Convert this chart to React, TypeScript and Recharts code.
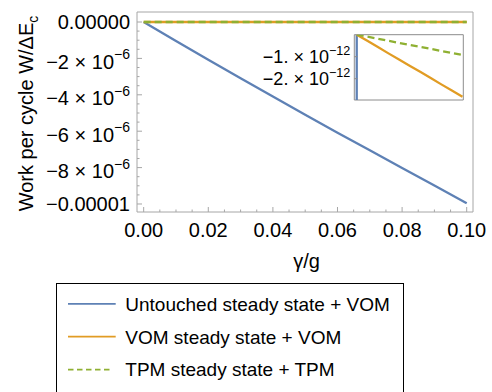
import React from 'react';
import { LineChart, Line, XAxis, YAxis, Label, ReferenceArea } from 'recharts';

// ---------- data ----------
const gammaValues = [0, 0.01, 0.02, 0.03, 0.04, 0.05, 0.06, 0.07, 0.08, 0.09, 0.1];
const untouchedVOM = [0, -1.04e-6, -2.07e-6, -3.09e-6, -4.1e-6, -5.1e-6, -6.08e-6, -7.05e-6, -8.02e-6, -8.99e-6, -9.96e-6];
const vomVOM = [0, -0.28e-12, -0.56e-12, -0.85e-12, -1.13e-12, -1.41e-12, -1.69e-12, -1.97e-12, -2.26e-12, -2.54e-12, -2.82e-12];
const tpmTPM = [0, -0.09e-12, -0.18e-12, -0.28e-12, -0.37e-12, -0.46e-12, -0.55e-12, -0.64e-12, -0.74e-12, -0.83e-12, -0.92e-12];

const seriesNames = ['Untouched steady state + VOM', 'VOM steady state + VOM', 'TPM steady state + TPM'];
const seriesKeys = ['u', 'v', 't'];
const seriesColors = ['#5E81B5', '#E19C24', '#8FB032'];

const xMajorTicks = [0, 0.02, 0.04, 0.06, 0.08, 0.1];
const xTickLabels = ['0.00', '0.02', '0.04', '0.06', '0.08', '0.10'];
const xMinorTicks = [0.005, 0.01, 0.015, 0.025, 0.03, 0.035, 0.045, 0.05, 0.055, 0.065, 0.07, 0.075, 0.085, 0.09, 0.095];

const yMajorTicks = [0, -2e-6, -4e-6, -6e-6, -8e-6, -1e-5];
const yTickLabels: [string, string][] = [
  ['0.00000', ''],
  ['\u22122 \u00d7 10', '\u22126'],
  ['\u22124 \u00d7 10', '\u22126'],
  ['\u22126 \u00d7 10', '\u22126'],
  ['\u22128 \u00d7 10', '\u22126'],
  ['\u22120.00001', ''],
];
const yMinorTicks = [
  -0.5e-6, -1e-6, -1.5e-6, -2.5e-6, -3e-6, -3.5e-6, -4.5e-6, -5e-6, -5.5e-6,
  -6.5e-6, -7e-6, -7.5e-6, -8.5e-6, -9e-6, -9.5e-6,
];

const insetYTicks = [-1e-12, -2e-12];
const insetYTickLabels: [string, string][] = [
  ['\u22121. \u00d7 10', '\u221212'],
  ['\u22122. \u00d7 10', '\u221212'],
];

const data = gammaValues.map((g, i) => ({ g, u: untouchedVOM[i], v: vomVOM[i], t: tpmTPM[i] }));

const mainXDomain: [number, number] = [-0.00207, 0.10195];
const mainYDomain: [number, number] = [-1.044e-5, 0.55e-6];
const insetXDomain: [number, number] = [-0.0023, 0.1008];
const insetYDomain: [number, number] = [-2.97e-12, 0];

// ---------- style ----------
const FONT = '"Liberation Sans", Arial, Helvetica, sans-serif';
const FRAME = '#a6a6a6';
const INSET_FRAME = '#8c8c8c';
const Y_MARGIN = 7;
const INSET_MARGIN = 4;
const LINE_W = 2.3;

const sameTick = (a: number, b: number) => Math.abs(a - b) <= Math.abs(b) * 1e-6 + 1e-20;

function MainYTick(props: any) {
  const { x, y, payload } = props;
  const v = payload.value;
  const axisX = x + Y_MARGIN;
  const idx = yMajorTicks.findIndex((t) => sameTick(v, t));
  const major = idx >= 0;
  const lbl = major ? yTickLabels[idx] : null;
  return (
    <g>
      <line x1={axisX} x2={axisX + (major ? 5 : 2.5)} y1={y} y2={y} stroke={FRAME} strokeWidth={1} />
      {lbl && (
        <text x={x} y={y} dy={lbl[1] ? 10.5 : 7} textAnchor="end" fontSize={20} fill="#000" fontFamily={FONT}>
          <tspan>{lbl[0]}</tspan>
          {lbl[1] ? (
            <tspan dy={-9.5} fontSize={14}>
              {lbl[1]}
            </tspan>
          ) : null}
        </text>
      )}
    </g>
  );
}

function MainXTick(props: any) {
  const { x, y, payload } = props;
  const v = payload.value;
  const idx = xMajorTicks.findIndex((t) => sameTick(v, t));
  const major = idx >= 0;
  return (
    <g>
      <line x1={x} x2={x} y1={y} y2={y - (major ? 5 : 2.5)} stroke={FRAME} strokeWidth={1} />
      {major && (
        <text x={x} y={y} dy={25} textAnchor="middle" fontSize={20} fill="#000" fontFamily={FONT}>
          {xTickLabels[idx]}
        </text>
      )}
    </g>
  );
}

function InsetYTick(props: any) {
  const { x, y, payload } = props;
  const v = payload.value;
  const idx = insetYTicks.findIndex((t) => sameTick(v, t));
  const axisX = x + INSET_MARGIN;
  if (idx < 0) return <g />;
  const lbl = insetYTickLabels[idx];
  return (
    <g>
      <line x1={axisX} x2={axisX + 3} y1={y} y2={y} stroke={INSET_FRAME} strokeWidth={1} />
      <text x={x} y={y} dy={6.5} textAnchor="end" fontSize={18} fill="#000" fontFamily={FONT}>
        <tspan>{lbl[0]}</tspan>
        <tspan dy={-8} fontSize={12.6}>
          {lbl[1]}
        </tspan>
      </text>
    </g>
  );
}

function YLabel(props: any) {
  const vb = props.viewBox || { x: 0, y: 0, width: 0, height: 0 };
  const cx = vb.x + 33;
  const cy = vb.y + vb.height / 2 + 1.5;
  return (
    <text
      x={cx}
      y={cy}
      textAnchor="middle"
      fontSize={20}
      fill="#000"
      fontFamily={FONT}
      transform={`rotate(-90, ${cx}, ${cy})`}
    >
      <tspan>Work per cycle W/ΔE</tspan>
      <tspan dy={5} fontSize={14}>
        c
      </tspan>
    </text>
  );
}

function XLabel(props: any) {
  const vb = props.viewBox || { x: 0, y: 0, width: 0, height: 0 };
  return (
    <text x={vb.x + vb.width / 2 + 1.5} y={vb.y + 56} textAnchor="middle" fontSize={20} fill="#000" fontFamily={FONT}>
      γ/g
    </text>
  );
}

function LegendBox() {
  return (
    <div
      style={{
        position: 'absolute',
        left: 56,
        top: 282.5,
        width: 348,
        height: 140,
        border: '1px solid #000',
        boxSizing: 'border-box',
        background: '#fff',
      }}
    >
      <svg width={346} height={138} style={{ display: 'block' }}>
        {seriesNames.map((name, i) => {
          const cy = 19.8 + i * 32.9;
          return (
            <g key={name}>
              <line
                x1={11}
                x2={i === 2 ? 55.5 : 58.7}
                y1={cy}
                y2={cy}
                stroke={seriesColors[i]}
                strokeWidth={1.8}
                strokeDasharray={i === 2 ? '5.5 3.5' : undefined}
              />
              <text x={68.3} y={cy} dy={6.8} fontSize={19} fill="#000" fontFamily={FONT}>
                {name}
              </text>
            </g>
          );
        })}
      </svg>
    </div>
  );
}

export default function App() {
  return (
    <div
      style={{
        position: 'absolute',
        left: 0,
        top: 0,
        width: 492,
        height: 392,
        overflow: 'hidden',
        background: '#fff',
      }}
    >
      <LineChart width={492} height={392} data={data} margin={{ top: 12, right: 19, bottom: 150, left: 0 }}>
        <XAxis
          type="number"
          dataKey="g"
          domain={mainXDomain}
          ticks={[...xMajorTicks, ...xMinorTicks]}
          interval={0}
          tick={<MainXTick />}
          tickLine={false}
          tickSize={0}
          tickMargin={0}
          height={30}
          axisLine={false}
        >
          <Label content={<XLabel />} />
        </XAxis>
        <YAxis
          type="number"
          domain={mainYDomain}
          ticks={[...yMajorTicks, ...yMinorTicks]}
          interval={0}
          tick={<MainYTick />}
          tickLine={false}
          tickSize={0}
          tickMargin={Y_MARGIN}
          width={137}
          axisLine={false}
        >
          <Label content={<YLabel />} />
        </YAxis>
        <ReferenceArea
          x1={mainXDomain[0]}
          x2={mainXDomain[1]}
          y1={mainYDomain[0]}
          y2={mainYDomain[1]}
          fill="none"
          fillOpacity={0}
          stroke={FRAME}
          strokeWidth={1}
          ifOverflow="visible"
        />
        {seriesKeys.map((k, i) => (
          <Line
            key={k}
            type="linear"
            dataKey={k}
            stroke={seriesColors[i]}
            strokeWidth={LINE_W}
            strokeDasharray={i === 2 ? '7 4' : undefined}
            dot={false}
            activeDot={false}
            isAnimationActive={false}
          />
        ))}
      </LineChart>

      <div style={{ position: 'absolute', left: 254, top: 30 }}>
        <LineChart width={214} height={76} data={data} margin={{ top: 4.7, right: 4.7, bottom: 6, left: 0 }}>
          <XAxis
            type="number"
            dataKey="g"
            domain={insetXDomain}
            allowDataOverflow
            tick={false}
            tickLine={false}
            height={0}
            axisLine={false}
          />
          <YAxis
            type="number"
            domain={insetYDomain}
            allowDataOverflow
            ticks={insetYTicks}
            interval={0}
            tick={<InsetYTick />}
            tickLine={false}
            tickSize={0}
            tickMargin={INSET_MARGIN}
            width={100.3}
            axisLine={false}
          />
          <ReferenceArea
            x1={insetXDomain[0]}
            x2={insetXDomain[1]}
            y1={insetYDomain[0]}
            y2={insetYDomain[1]}
            fill="#fff"
            fillOpacity={1}
            stroke={INSET_FRAME}
            strokeWidth={1}
            ifOverflow="visible"
          />
          {seriesKeys.map((k, i) => (
            <Line
              key={k}
              type="linear"
              dataKey={k}
              stroke={seriesColors[i]}
              strokeWidth={LINE_W}
              strokeDasharray={i === 2 ? '7 4' : undefined}
              dot={false}
              activeDot={false}
              isAnimationActive={false}
            />
          ))}
        </LineChart>
      </div>

      <LegendBox />
    </div>
  );
}
